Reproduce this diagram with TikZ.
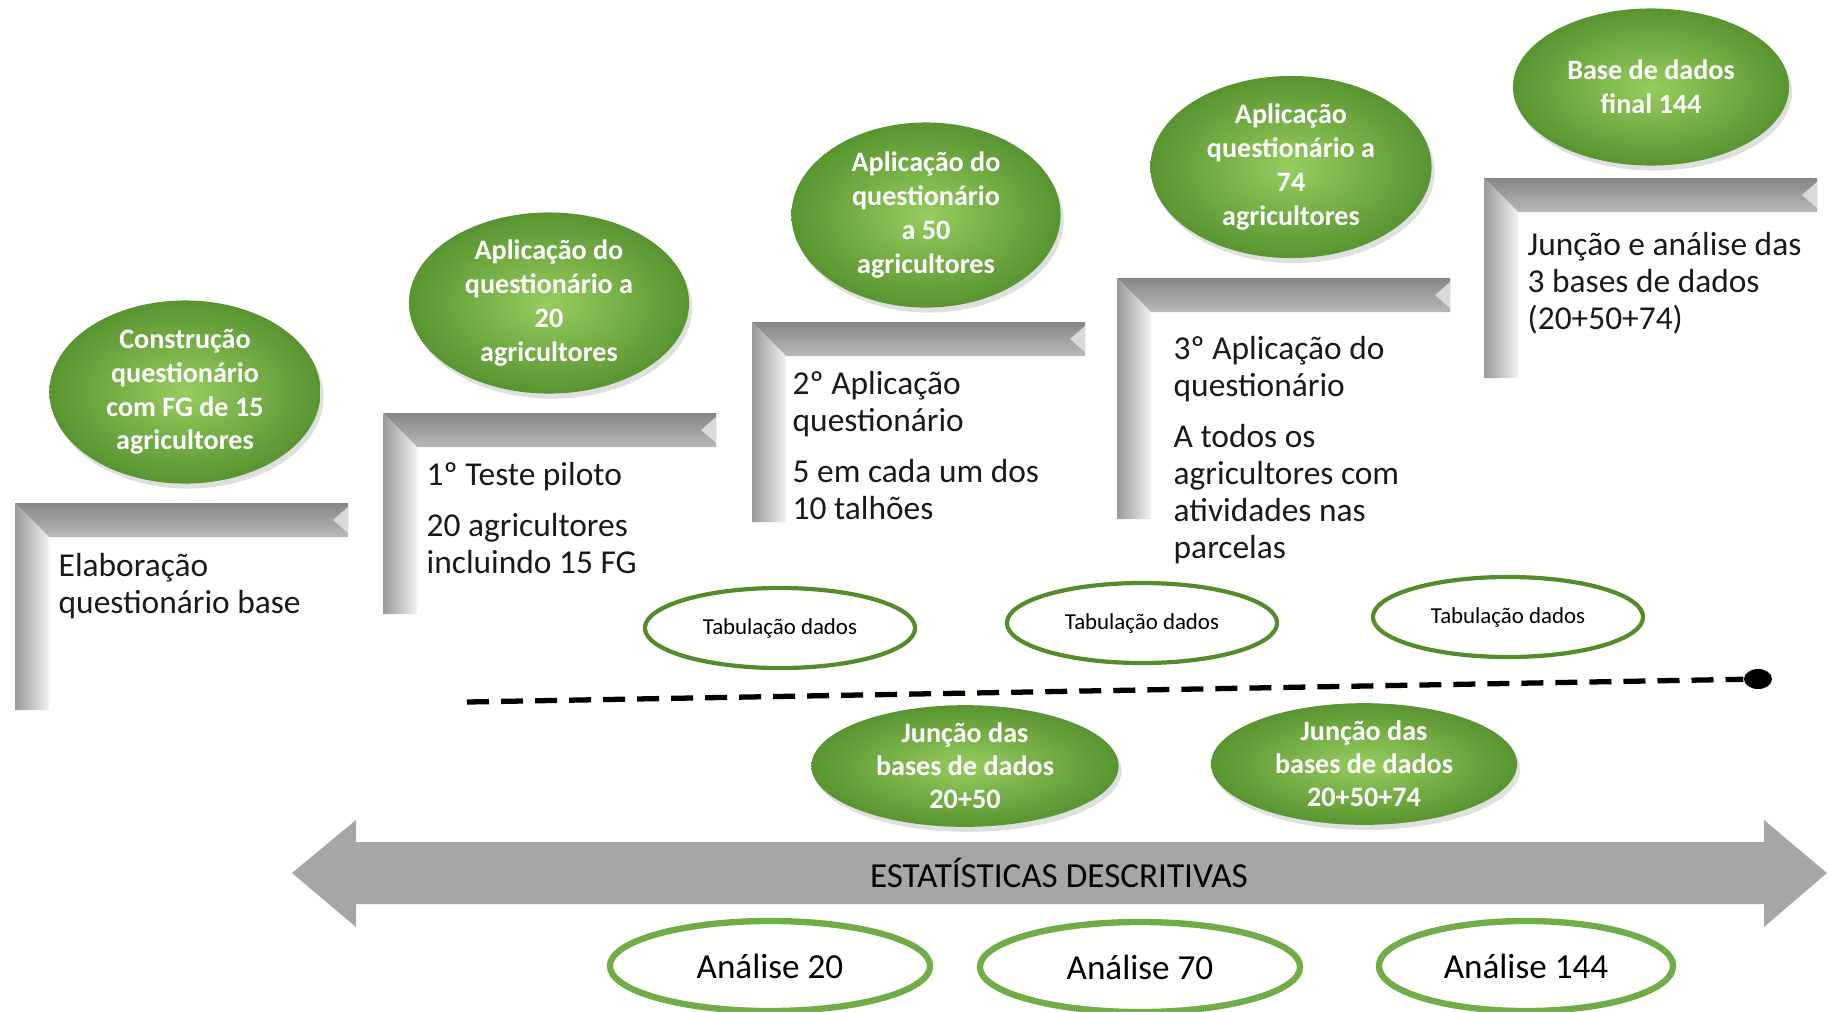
\documentclass[tikz,border=0pt]{standalone}
\usepackage{fontspec}
\setmainfont{Carlito}
\usepackage{tikz}
\usetikzlibrary{shapes.geometric,shadows}
\definecolor{verde}{RGB}{112,173,71}
\definecolor{verdeclaro}{RGB}{150,205,95}
\definecolor{verdeescuro}{RGB}{88,148,48}
\definecolor{linhaverde}{RGB}{84,140,44}
\tikzstyle{greenball} = [ ellipse, inner sep = 0pt, align = center, text = white, %
                          font = \bfseries\fontsize{8pt}{9.6pt}\selectfont, %
                          inner color = verdeclaro, outer color = verdeescuro, %
                          drop shadow = {opacity = 0.25, shadow xshift = 0.03cm, shadow yshift = -0.05cm} ]
\tikzstyle{tabball} = [ ellipse, draw = linhaverde, line width = 1.2pt, fill = white, %
                        inner sep = 0pt, minimum width = 2.7cm, minimum height = 0.8cm, %
                        font = \fontsize{6.5pt}{7.8pt}\selectfont ]
\tikzstyle{analiseball} = [ ellipse, draw = verde, line width = 1.8pt, fill = white, %
                            inner sep = 0pt, minimum width = 3.2cm, minimum height = 0.9cm, %
                            font = \fontsize{10pt}{12pt}\selectfont ]
\tikzstyle{bracktext} = [ anchor = north west, inner sep = 0pt, align = left, text = black!90, %
                          font = \fontsize{9.5pt}{10.5pt}\selectfont ]

\begin{document}
\begin{tikzpicture}[x = 0.01cm, y = -0.01cm]
      \useasboundingbox (0,0) rectangle (1829,1011);
      % Steps
      \foreach \bx/\by/\bh in {15/503/207, 383/413/201, 752/322/200, 1117/278/241, 1484/178/200} {
        \shade [top color = gray!95, bottom color = gray!55] (\bx,\by) -- (\bx+333,\by) %
          -- (\bx+333,\by+34) -- (\bx+34,\by+34) -- cycle;
        \fill [gray!30] (\bx+333,\by+4) -- (\bx+318,\by+17) -- (\bx+333,\by+30) -- cycle;
        \shade [left color = gray!80, right color = gray!10] (\bx,\by) -- (\bx+34,\by+34) %
          -- (\bx+34,\by+\bh) -- (\bx,\by+\bh) -- cycle;
      }
      \node (passo1) [bracktext] at (58,553)  {Elaboração\\questionário base};
      \node (passo2) [bracktext] at (426,462) {1º Teste piloto\\[4pt]20 agricultores\\incluindo 15 FG};
      \node (passo3) [bracktext] at (792,371) {2º Aplicação\\questionário\\[4pt]5 em cada um dos\\10 talhões};
      \node (passo4) [bracktext] at (1173,336) {3º Aplicação do\\questionário\\[4pt]A todos os\\agricultores com\\atividades nas\\parcelas};
      \node (passo5) [bracktext] at (1527,232) {Junção e análise das\\3 bases de dados\\(20+50+74)};
      % Green ellipses
      \node (construcao) [greenball, minimum width = 2.71cm, minimum height = 1.83cm] at (185,392) %
        {Construção\\questionário\\com FG de 15\\agricultores};
      \node (aplic20) [greenball, minimum width = 2.80cm, minimum height = 1.81cm] at (549,303) %
        {Aplicação do\\questionário a\\20\\agricultores};
      \node (aplic50) [greenball, minimum width = 2.69cm, minimum height = 1.85cm] at (926,215) %
        {Aplicação do\\questionário\\a 50\\agricultores};
      \node (aplic74) [greenball, minimum width = 2.81cm, minimum height = 1.82cm] at (1291,167) %
        {Aplicação\\questionário a\\74\\agricultores};
      \node (basefinal) [greenball, minimum width = 2.76cm, minimum height = 1.57cm] at (1651,87) %
        {Base de dados\\final 144};
      % Tabulation
      \node (tab1) [tabball] at (780,628)  {Tabulação dados};
      \node (tab2) [tabball] at (1142,623) {Tabulação dados};
      \node (tab3) [tabball] at (1508,617) {Tabulação dados};
      % Time line
      \coordinate (inicio) at (467,702);
      \node (fim) [ellipse, fill = black, inner sep = 0pt, minimum width = 0.28cm, %
        minimum height = 0.2cm] at (1758,679) {};
      \draw [line width = 1.5pt, dash pattern = on 0.22cm off 0.12cm] (inicio) -- (fim);
      % Merging
      \node (juncao1) [greenball, minimum width = 3.07cm, minimum height = 1.06cm, %
        font = \bfseries\fontsize{8pt}{9.4pt}\selectfont] at (965,766) {Junção das\\bases de dados\\20+50};
      \node (juncao2) [greenball, minimum width = 3.06cm, minimum height = 1.04cm, %
        font = \bfseries\fontsize{8pt}{9.4pt}\selectfont] at (1364,764) {Junção das\\bases de dados\\20+50+74};
      % Double arrow
      \fill [gray!70] (292,873) -- (356,820) -- (356,842) -- (1764,842) -- (1764,820) -- (1827,873) %
        -- (1764,927) -- (1764,904) -- (356,904) -- (356,927) -- cycle;
      \node (estat) [font = \fontsize{10pt}{12pt}\selectfont] at (1059,873) {ESTATÍSTICAS DESCRITIVAS};
      % Analyses
      \node (analise20)  [analiseball] at (770,966)  {Análise 20};
      \node (analise70)  [analiseball] at (1140,967) {Análise 70};
      \node (analise144) [analiseball, minimum width = 2.94cm] at (1526,966) {Análise 144};
\end{tikzpicture}
\end{document}
